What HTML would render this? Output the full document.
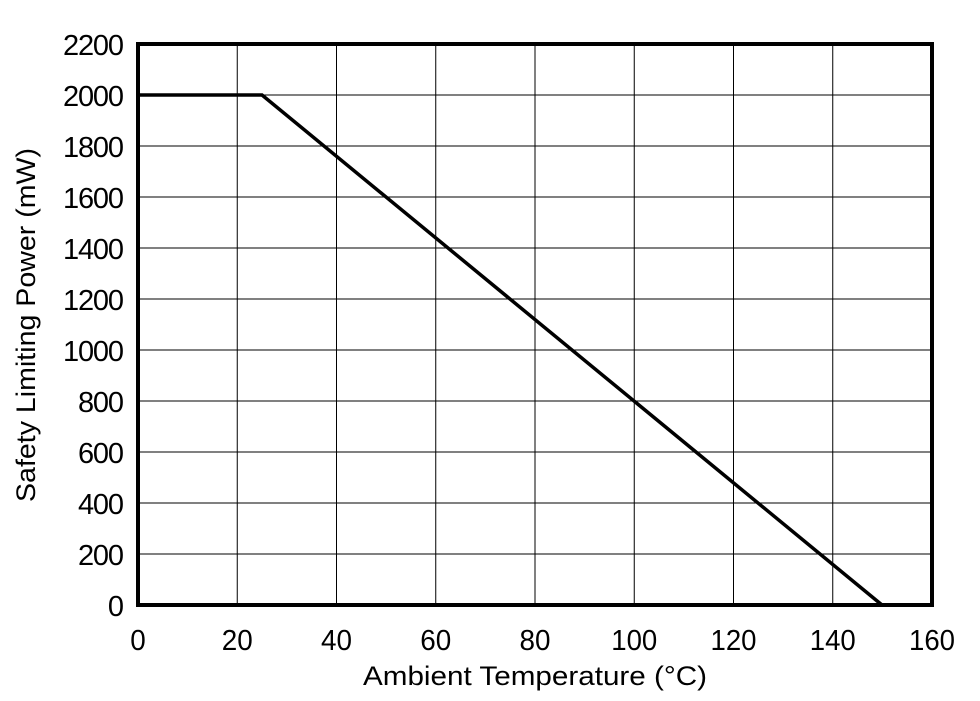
<!DOCTYPE html>
<html><head><meta charset="utf-8"><style>
html,body{margin:0;padding:0;background:#fff;}
svg{display:block;}
text{font-family:"Liberation Sans",Arial,sans-serif;fill:#000;}
</style></head><body>
<svg width="980" height="701" viewBox="0 0 980 701" xmlns="http://www.w3.org/2000/svg">
<g stroke="#000" stroke-width="1">
<line x1="237.25" y1="44" x2="237.25" y2="605"/>
<line x1="336.5" y1="44" x2="336.5" y2="605"/>
<line x1="435.75" y1="44" x2="435.75" y2="605"/>
<line x1="535" y1="44" x2="535" y2="605"/>
<line x1="634.25" y1="44" x2="634.25" y2="605"/>
<line x1="733.5" y1="44" x2="733.5" y2="605"/>
<line x1="832.75" y1="44" x2="832.75" y2="605"/>
<line x1="138" y1="95" x2="932" y2="95"/>
<line x1="138" y1="146" x2="932" y2="146"/>
<line x1="138" y1="197" x2="932" y2="197"/>
<line x1="138" y1="248" x2="932" y2="248"/>
<line x1="138" y1="299" x2="932" y2="299"/>
<line x1="138" y1="350" x2="932" y2="350"/>
<line x1="138" y1="401" x2="932" y2="401"/>
<line x1="138" y1="452" x2="932" y2="452"/>
<line x1="138" y1="503" x2="932" y2="503"/>
<line x1="138" y1="554" x2="932" y2="554"/>
</g>
<polyline points="138,95 262,95 882,605" fill="none" stroke="#000" stroke-width="3.5"/>
<rect x="138" y="44" width="794" height="561" fill="none" stroke="#000" stroke-width="4"/>
<g font-size="29" text-anchor="end" lengthAdjust="spacingAndGlyphs">
<text x="124" y="55" textLength="61">2200</text>
<text x="124" y="106" textLength="61">2000</text>
<text x="124" y="157" textLength="61">1800</text>
<text x="124" y="208" textLength="61">1600</text>
<text x="124" y="259" textLength="61">1400</text>
<text x="124" y="310" textLength="61">1200</text>
<text x="124" y="361" textLength="61">1000</text>
<text x="124" y="412" textLength="46">800</text>
<text x="124" y="463" textLength="46">600</text>
<text x="124" y="514" textLength="46">400</text>
<text x="124" y="565" textLength="46">200</text>
<text x="124" y="616" textLength="15.5">0</text>
</g>
<g font-size="29" text-anchor="middle">
<text x="138" y="650" textLength="15.5" lengthAdjust="spacingAndGlyphs">0</text>
<text x="237.25" y="650" textLength="31" lengthAdjust="spacingAndGlyphs">20</text>
<text x="336.5" y="650" textLength="31" lengthAdjust="spacingAndGlyphs">40</text>
<text x="435.75" y="650" textLength="31" lengthAdjust="spacingAndGlyphs">60</text>
<text x="535" y="650" textLength="31" lengthAdjust="spacingAndGlyphs">80</text>
<text x="634.25" y="650" textLength="46" lengthAdjust="spacingAndGlyphs">100</text>
<text x="733.5" y="650" textLength="46" lengthAdjust="spacingAndGlyphs">120</text>
<text x="832.75" y="650" textLength="46" lengthAdjust="spacingAndGlyphs">140</text>
<text x="932" y="650" textLength="46" lengthAdjust="spacingAndGlyphs">160</text>
</g>
<text x="363" y="685" font-size="27" textLength="344" lengthAdjust="spacingAndGlyphs">Ambient Temperature (°C)</text>
<text transform="translate(35,502) rotate(-90)" x="0" y="0" font-size="27" textLength="354" lengthAdjust="spacingAndGlyphs">Safety Limiting Power (mW)</text>
</svg>
</body></html>
